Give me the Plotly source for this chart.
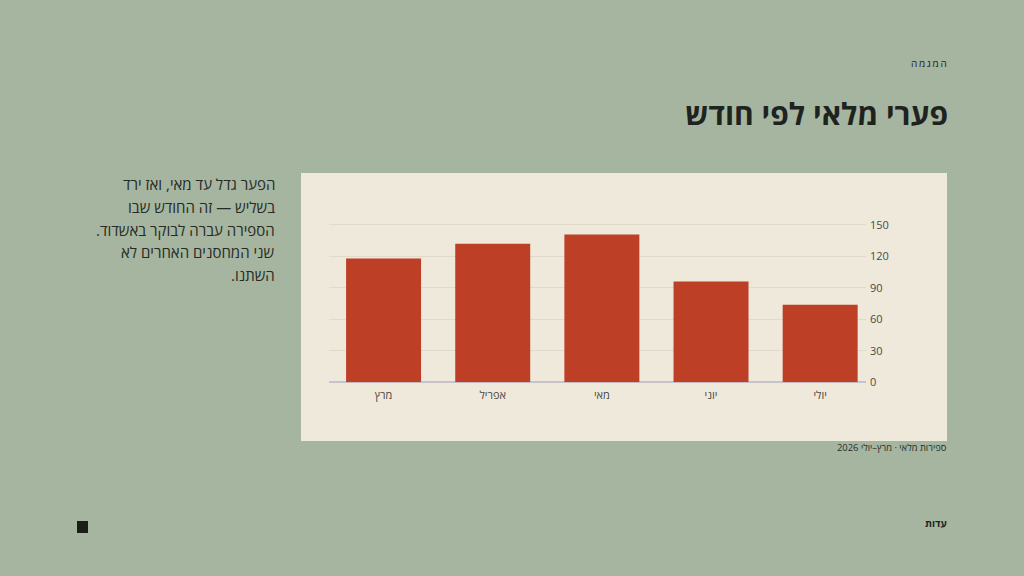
import plotly.graph_objects as go

# נתוני מלאי לפי חודש
months = ['מרץ', 'אפריל', 'מאי', 'יוני', 'יולי']
gaps = [118, 132, 141, 96, 74]
y_ticks = [0, 30, 60, 90, 120, 150]

title = 'פערי מלאי לפי חודש'
kicker = 'ה\u2009מ\u2009ג\u2009מ\u2009ה'
body_lines = [
    'הפער גדל עד מאי, ואז ירד',
    'בשליש — זה החודש שבו',
    'הספירה עברה לבוקר באשדוד.',
    'שני המחסנים האחרים לא',
    'השתנו.',
]
source = 'ספירות מלאי · מרץ–יולי 2026'
footer = 'עדות'

BG = '#A6B59F'
CARD = '#EFE9DB'
BAR = '#BD4026'
INK = '#1E231F'
FONT = 'Open Sans, DejaVu Sans, sans-serif'


def rtl(s):
    # סימני כיוון כדי שהנקודה והמספרים יישבו נכון
    return '\u200f' + s + '\u200f'


fig = go.Figure()
fig.add_trace(go.Bar(
    x=months, y=gaps,
    marker=dict(color=BAR, line=dict(width=0)),
    hoverinfo='x+y',
))

fig.update_layout(
    width=1024, height=576,
    margin=dict(l=0, r=0, t=0, b=0, autoexpand=False),
    paper_bgcolor=BG,
    plot_bgcolor='rgba(0,0,0,0)',
    showlegend=False,
    bargap=0.313,
    font=dict(family=FONT, color=INK),
    xaxis=dict(
        domain=[329 / 1024, 866 / 1024],
        range=[-0.5, 4.42],
        automargin=False,
        showgrid=False, showline=False, zeroline=False,
        ticks='', ticklabelstandoff=5,
        tickfont=dict(size=11, color='#4A4A43'),
        fixedrange=True,
    ),
    yaxis=dict(
        domain=[1 - 382.3 / 576, 1 - 214.5 / 576],
        range=[0, 160],
        automargin=False,
        side='right',
        tickvals=y_ticks,
        gridcolor='#E0DACB', gridwidth=1,
        zeroline=True, zerolinecolor='#C7C3CB', zerolinewidth=1.5,
        showline=False, ticks='',
        ticklabelstandoff=3,
        tickfont=dict(size=11, color='#4A4A43'),
        fixedrange=True,
    ),
)

# כרטיס הגרף
fig.add_shape(type='rect', xref='paper', yref='paper',
              x0=301 / 1024, x1=947 / 1024, y0=1 - 441 / 576, y1=1 - 173 / 576,
              fillcolor=CARD, line=dict(width=0), layer='below')
# ריבוע בפינה
fig.add_shape(type='rect', xref='paper', yref='paper',
              x0=77 / 1024, x1=88 / 1024, y0=1 - 533 / 576, y1=1 - 521 / 576,
              fillcolor='#1B1D1A', line=dict(width=0))

fig.add_annotation(text=kicker, xref='paper', yref='paper',
                   x=949 / 1024, y=1 - 63 / 576, xanchor='right', yanchor='middle',
                   showarrow=False, font=dict(size=10, color=INK))
fig.add_annotation(text='<b>' + title + '</b>', xref='paper', yref='paper',
                   x=950 / 1024, y=1 - 113 / 576, xanchor='right', yanchor='middle',
                   showarrow=False, font=dict(size=30, color=INK))

for i, line in enumerate(body_lines):
    fig.add_annotation(text=rtl(line), xref='paper', yref='paper',
                       x=277 / 1024, y=1 - (184 + i * 22.8) / 576,
                       xanchor='right', yanchor='middle', align='right',
                       showarrow=False, font=dict(size=15, color='#262B26'))

fig.add_annotation(text=rtl(source), xref='paper', yref='paper',
                   x=949 / 1024, y=1 - 447 / 576, xanchor='right', yanchor='middle',
                   showarrow=False, font=dict(size=9.4, color='#2B302B'))
fig.add_annotation(text='<b>' + footer + '</b>', xref='paper', yref='paper',
                   x=949 / 1024, y=1 - 523 / 576, xanchor='right', yanchor='middle',
                   showarrow=False, font=dict(size=10, color=INK))

# בלי שוליים של הדף ובלי סרגל הכלים
fig.write_html('out.html', config={'displayModeBar': False},
               post_script="document.body.style.margin='0';")
